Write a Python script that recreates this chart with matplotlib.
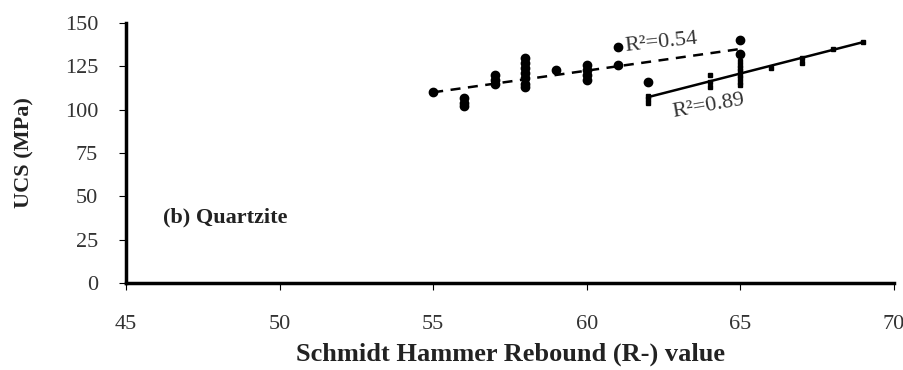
import matplotlib.pyplot as plt
import numpy as np

plt.rcParams['font.family'] = ['Liberation Serif', 'DejaVu Serif']

# series 1 (circles, dashed fit)
x1 = [55, 56, 56, 56, 57, 57, 57, 58, 58, 58, 58, 58, 58, 58,
      59, 60, 60, 60, 60, 61, 61, 62, 65, 65]
y1 = [110, 107, 104, 102, 120, 117, 115, 130, 127, 124, 121, 118, 115, 113,
      123, 126, 123, 120, 117, 136, 126, 116, 140, 132]

# series 2 (small squares, solid fit)
x2 = [62, 62, 62, 64, 64, 64, 65, 65, 65, 65, 65, 65, 65, 65,
      66, 67, 67, 68, 69]
y2 = [108, 106, 104, 120, 116, 113, 128, 126, 124, 122, 120, 118, 116, 114,
      124, 130, 127, 135, 139]

# fitted lines: slope, intercept, x range
fit1 = (2.5, -27.5, 55, 65)
fit2 = (4.53, -173.6, 62, 69)

xticks = [45, 50, 55, 60, 65, 70]
yticks = [0, 25, 50, 75, 100, 125, 150]

fig = plt.figure(figsize=(9.04, 3.70), dpi=100)
ax = fig.add_axes([0.1394, 0.235, 0.8496, 0.703])

ax.plot(x1, y1, 'o', color='black', markersize=6)
ax.plot(x2, y2, 's', color='black', markersize=3.5)

fx = np.array(fit1[2:])
ax.plot(fx, fit1[0] * fx + fit1[1], '--', color='black', lw=1.8, dashes=(4, 3))
fx = np.array(fit2[2:])
ax.plot(fx, fit2[0] * fx + fit2[1], '-', color='black', lw=1.8)

ax.text(61.2, 134, 'R²=0.54', fontsize=16, rotation=6, color='#333333')
ax.text(62.75, 96, 'R²=0.89', fontsize=16, rotation=10, color='#333333')
ax.text(46.2, 35, '(b) Quartzite', fontsize=16, fontweight='bold', color='#222222')

ax.set_xlim(45, 70)
ax.set_ylim(0, 150)
ax.set_xticks(xticks)
ax.set_yticks(yticks)
ax.tick_params(labelsize=16, direction='out', length=5, width=0.8, pad=15,
               labelcolor='#333333')
ax.tick_params(axis='x', pad=18)
for s in ['top', 'right']:
    ax.spines[s].set_visible(False)
for s in ['left', 'bottom']:
    ax.spines[s].set_linewidth(2.5)

ax.set_xlabel('Schmidt Hammer Rebound (R-) value', fontsize=19, fontweight='bold',
              labelpad=6, color='#222222')
ax.set_ylabel('UCS (MPa)', fontsize=16, fontweight='bold', labelpad=22,
              color='#222222')

fig.savefig('out.png', dpi=100)
